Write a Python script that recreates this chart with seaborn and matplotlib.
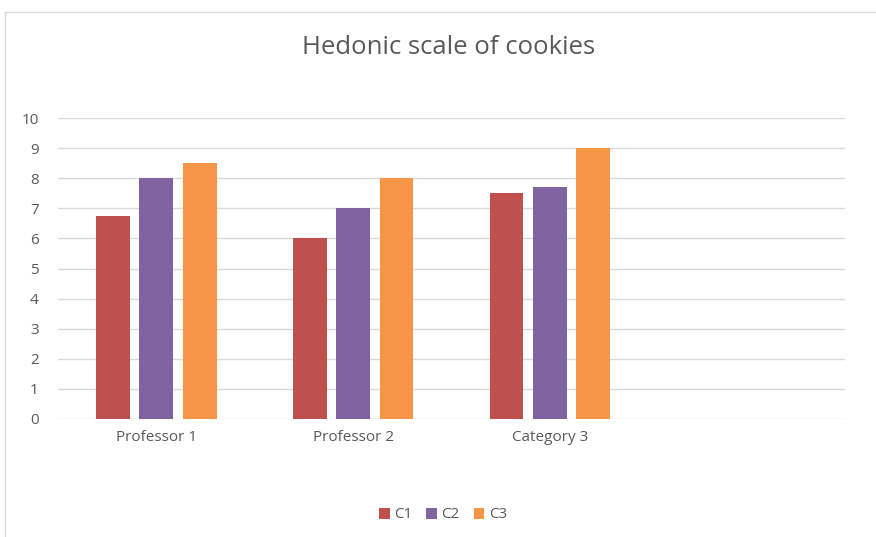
import matplotlib
matplotlib.use("Agg")
import matplotlib.pyplot as plt
import seaborn as sns
import pandas as pd
from matplotlib.patches import Rectangle, Patch

categories = ["Professor 1", "Professor 2", "Category 3"]
series = ["C1", "C2", "C3"]
c1 = [6.75, 6.0, 7.5]
c2 = [8.0, 7.0, 7.7]
c3 = [8.5, 8.0, 9.0]
colors = ["#C0504D", "#8064A2", "#F79646"]
yticks = list(range(0, 11))

rows = []
for s, vals in zip(series, [c1, c2, c3]):
    for c, v in zip(categories, vals):
        rows.append({"cat": c, "series": s, "val": v})
df = pd.DataFrame(rows)

sns.set_theme(style="white")
plt.rcParams['font.family'] = ['Open Sans', 'DejaVu Sans']
txt = "#595959"

fig = plt.figure(figsize=(8.76, 5.37), dpi=100)
ax = fig.add_axes([58/876, 1-419/537, (845-58)/876, (419-118)/537])

sns.barplot(data=df, x="cat", y="val", hue="series", order=categories,
            hue_order=series, palette=colors, width=0.66, gap=0.22,
            saturation=1, ax=ax, legend=False, linewidth=0)

ax.set_xlim(-0.5, 3.5)
ax.set_ylim(0, 10)
ax.set_yticks(yticks)
ax.set_yticklabels([str(t) for t in yticks], color=txt, fontsize=11)
ax.set_xticks(range(len(categories)))
ax.set_xticklabels(categories, color=txt, fontsize=11)
ax.tick_params(axis="y", length=0, pad=14)
ax.tick_params(axis="x", length=0, pad=8)
ax.grid(axis="y", color="#D9D9D9", linewidth=1)
ax.set_axisbelow(True)
for sp in ax.spines.values():
    sp.set_visible(False)
ax.set_xlabel("")
ax.set_ylabel("")

fig.text(449/876, 1-47/537, "Hedonic scale of cookies", ha="center", va="center",
         fontsize=18.5, color=txt)

handles = [Patch(facecolor=c, edgecolor="none") for c in colors]
fig.legend(handles, series, loc="center", bbox_to_anchor=(443/876, 1-515/537),
           ncol=3, frameon=False, fontsize=11, handlelength=0.7, handleheight=0.7,
           handletextpad=0.3, columnspacing=0.9, labelcolor=txt)

fig.patches.append(Rectangle((5/876, -0.01), 1.0, 1-12/537 + 0.01, transform=fig.transFigure,
                             fill=False, edgecolor="#D9D9D9", linewidth=1))

fig.savefig("out.png", dpi=100)
